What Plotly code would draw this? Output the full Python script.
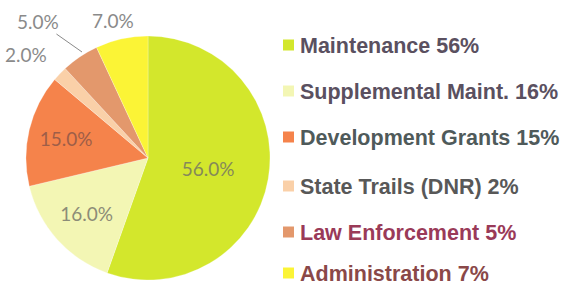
import plotly.graph_objects as go

categories = ["Maintenance", "Supplemental Maint.", "Development Grants",
              "State Trails (DNR)", "Law Enforcement", "Administration"]
values = [56, 16, 15, 2, 5, 7]
legend_labels = ["Maintenance 56%", "Supplemental Maint. 16%", "Development Grants 15%",
                 "State Trails (DNR) 2%", "Law Enforcement 5%", "Administration 7%"]
slice_colors = ["#D3E72C", "#F3F6B4", "#F5834B", "#FAD0A8", "#E3986C", "#FBF436"]
label_colors = ["#85895A", "#8C8C78", "#9E5E48", "#8A8A8A", "#8A8A8A", "#8A8A8A"]
legend_text_colors = ["#5A5060", "#5A5060", "#4F5A5A", "#585858", "#9A3A58", "#8A4848"]

W, H = 579, 287
LABEL_FONT = "Lato, sans-serif"

inside = [v >= 10 for v in values]
pie_text = ["%.1f%%" % v if ins else "" for v, ins in zip(values, inside)]

fig = go.Figure(go.Pie(
    labels=categories,
    values=values,
    text=pie_text,
    sort=False,
    direction="clockwise",
    rotation=0,
    marker=dict(colors=slice_colors, line=dict(color="rgba(255,255,255,0.5)", width=0.5)),
    textinfo="text",
    textposition="inside",
    insidetextorientation="horizontal",
    textfont=dict(family=LABEL_FONT, size=19, color=label_colors),
    showlegend=False,
    hoverinfo="label+value",
    domain=dict(x=[26 / W, 270 / W], y=[(H - 281) / H, (H - 35) / H]),
))

# labels for the small slices, placed outside the pie
small_idx = [i for i, ins in enumerate(inside) if not ins]
outside_pos = {3: (26, 55, None), 4: (38, 21, (82, 52)), 5: (113, 21, None)}
annotations = []
for i in small_idx:
    tx, ty, tip = outside_pos[i]
    txt = "%.1f%%" % values[i]
    if tip is None:
        annotations.append(dict(
            x=tx / W, y=1 - ty / H, xref="paper", yref="paper",
            xanchor="center", yanchor="middle", showarrow=False, text=txt,
            font=dict(family=LABEL_FONT, size=19, color=label_colors[i]),
        ))
    else:
        annotations.append(dict(
            x=tip[0] / W, y=1 - tip[1] / H, xref="paper", yref="paper",
            ax=tx - tip[0], ay=ty - tip[1], axref="pixel", ayref="pixel",
            showarrow=True, arrowhead=0, arrowwidth=1, arrowcolor="#8A8A8A",
            text=txt, font=dict(family=LABEL_FONT, size=19, color=label_colors[i]),
        ))

row_y = [45, 91, 137, 186, 232, 273]
shapes = []
for i, (txt, yc) in enumerate(zip(legend_labels, row_y)):
    annotations.append(dict(
        x=298 / W, y=1 - (yc + 1) / H, xref="paper", yref="paper",
        xanchor="left", yanchor="middle", showarrow=False,
        text=txt,
        font=dict(family="Liberation Sans, Arial, sans-serif", size=21.5,
                  color=legend_text_colors[i], weight="bold"),
    ))
    shapes.append(dict(
        type="rect", xref="paper", yref="paper",
        x0=283 / W, x1=294 / W, y0=1 - (yc + 5.5) / H, y1=1 - (yc - 5.5) / H,
        fillcolor=slice_colors[i], line=dict(width=0),
    ))

fig.update_layout(
    width=W, height=H,
    margin=dict(l=0, r=0, t=0, b=0),
    paper_bgcolor="white", plot_bgcolor="white",
    annotations=annotations, shapes=shapes,
)

fig.write_html("out.html", config={"displayModeBar": False},
               post_script="document.body.style.margin='0';")
